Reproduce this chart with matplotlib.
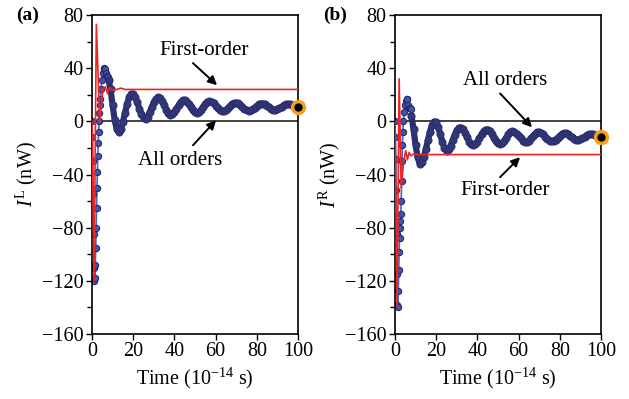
import matplotlib
matplotlib.use('Agg')
import matplotlib.pyplot as plt
from matplotlib.ticker import MultipleLocator

plt.rcParams['font.family'] = ['Liberation Serif', 'DejaVu Serif']
plt.rcParams['mathtext.fontset'] = 'custom'
plt.rcParams['mathtext.rm'] = 'Liberation Serif'
plt.rcParams['mathtext.it'] = 'Liberation Serif:italic'

# time grid (10^-14 s): fine steps at the start, then one step per unit
time_early = [0, 0.2, 0.4, 0.6, 0.8, 1.0, 1.2, 1.4, 1.6, 1.8, 2.0, 2.2, 2.4, 2.6, 2.8,
              3.0, 3.2, 3.4, 3.6, 3.8, 4.0, 4.4, 4.8, 5.2, 5.6, 6.0, 6.4, 6.8, 7.2, 7.6, 8.0]
time_late = list(range(9, 101))

# all orders, left lead (nW)
all_left_early = [0, -12, -30, -55, -85, -110, -120, -118, -108, -95, -80, -65, -50, -38, -26,
                  -16, -8, 0, 6, 12, 17, 24, 31, 36, 39, 40, 39, 36, 34, 33, 31]
all_left_late = [24, 12, 1, -6, -8, -5.4, -0.4, 6.2, 12.9, 18.1,
                 20.7, 20.6, 18.2, 14.2, 9.4, 5.4, 2.6, 2.1, 3.6, 6.8,
                 10.6, 14.3, 17.0, 18.0, 17.2, 15.0, 12.0, 8.8, 6.3, 5.1,
                 5.3, 6.9, 9.3, 12.0, 14.4, 15.8, 15.9, 14.9, 13.0, 10.7,
                 8.5, 7.0, 6.5, 7.1, 8.6, 10.7, 12.7, 14.2, 15.0, 14.7,
                 13.5, 11.9, 10.1, 8.5, 7.6, 7.6, 8.4, 9.8, 11.3, 12.8,
                 13.7, 14.0, 13.5, 12.4, 10.9, 9.5, 8.4, 8.0, 8.3, 9.2,
                 10.4, 11.7, 12.9, 13.4, 13.4, 12.8, 11.7, 10.5, 9.4, 8.7,
                 8.5, 9.0, 9.9, 10.9, 12.0, 12.7, 13.0, 13.0, 12.6, 12.0,
                 11.4, 10.8]

# all orders, right lead (nW)
all_right_early = [0, -12, -28, -52, -85, -115, -138, -140, -128, -112, -98, -88, -80, -75, -70,
                   -60, -45, -30, -18, -8, 0, 7, 12, 15, 17, 16.5, 12, 10, 10, 9, 4]
all_right_late = [-6, -18, -27, -32, -30.6, -26.6, -20.8, -14.1, -7.7, -2.9,
                  -0.2, -0.6, -4.4, -9.7, -15.8, -20.3, -22.0, -21.0, -18.2, -14.3,
                  -10.1, -6.8, -4.8, -4.7, -6.1, -8.8, -12.1, -15.2, -17.2, -18.0,
                  -17.3, -15.4, -12.7, -9.8, -7.6, -6.2, -6.2, -7.3, -9.5, -12.2,
                  -14.7, -16.3, -17.0, -16.4, -14.6, -12.3, -9.9, -8.2, -7.5, -7.9,
                  -9.3, -11.0, -12.9, -14.5, -15.3, -15.4, -14.5, -12.9, -11.1, -9.4,
                  -8.3, -8.0, -8.6, -9.9, -11.6, -13.3, -14.5, -15.0, -14.7, -13.7,
                  -12.4, -10.9, -9.7, -9.1, -9.1, -9.8, -10.9, -12.1, -13.2, -13.9,
                  -14.0, -13.6, -12.7, -11.6, -10.5, -9.8, -9.5, -9.7, -10.2, -10.9,
                  -11.5, -12.0]

# first-order curves
first_time_left = [0, 1.0, 2.1, 3.7, 5.3, 6.5, 7.5, 8.6, 10, 12, 14, 16, 100]
first_left = [0, -120, 73, 0, 24, 26, 21, 25.5, 23.5, 24, 25, 24, 24]
first_time_right = [0, 1.0, 2.0, 3.0, 4.2, 5.2, 6.0, 6.8, 7.8, 9, 11, 100]
first_right = [0, -140, 32, -50, -30, -22, -29, -23.5, -26, -24.5, -25, -25]

navy = '#2c2f6e'

fig = plt.figure(figsize=(6.29, 3.99), dpi=100)
ax_a = fig.add_axes([0.1463, 0.1629, 0.3275, 0.7995])
ax_b = fig.add_axes([0.628, 0.1629, 0.3275, 0.7995])

panels = [
    (ax_a, '(a)', 'L', all_left_early, all_left_late, first_time_left, first_left),
    (ax_b, '(b)', 'R', all_right_early, all_right_late, first_time_right, first_right),
]

for ax, tag, lead, cur_e, cur_l, ft, fv in panels:
    ax.axhline(0, color='#333333', lw=1.3, zorder=1)
    # fast transient: separate dots on a thin line
    ax.plot(time_early, cur_e, '-o', color='#4a66c0', lw=1.2, ms=4.5,
            mfc='#3e56ad', mec='#262a66', mew=0.8, zorder=2)
    # slow oscillation: dots merge into a thick band
    ax.plot(time_early[-1:] + time_late, cur_e[-1:] + cur_l, '-o', color=navy, lw=4.5,
            ms=5, mfc='#33387c', mec=navy, mew=0.8, zorder=2)
    ax.plot(ft, fv, color='#ee2424', lw=1.2, zorder=3)
    # end point highlight
    ax.plot(time_late[-1], cur_l[-1], 'o', ms=10, color='#f5a01a', clip_on=False, zorder=4)
    ax.plot(time_late[-1], cur_l[-1], 'o', ms=5, color='black', clip_on=False, zorder=5)

    ax.set_xlim(0, 100)
    ax.set_ylim(-160, 80)
    ax.xaxis.set_major_locator(MultipleLocator(20))
    ax.yaxis.set_major_locator(MultipleLocator(40))
    ax.yaxis.set_minor_locator(MultipleLocator(20))
    ax.tick_params(axis='both', which='major', direction='out', length=4, width=1,
                   labelsize=14.5, pad=2)
    ax.tick_params(axis='y', which='minor', direction='out', length=3.5, width=1)
    for sp in ax.spines.values():
        sp.set_linewidth(1.2)
    ax.set_xlabel(r'Time (10$^{-14}$ s)', fontsize=14.5, labelpad=3)
    ax.set_ylabel(r'$I^{\mathrm{%s}}$ (nW)' % lead, fontsize=14.5, labelpad=2)

ax_a.text(-0.37, 1.0, '(a)', transform=ax_a.transAxes, fontsize=14, fontweight='bold',
          ha='left', va='center')
ax_b.text(-0.35, 1.0, '(b)', transform=ax_b.transAxes, fontsize=14, fontweight='bold',
          ha='left', va='center')

arrow = dict(arrowstyle='-|>', color='black', lw=1.4, mutation_scale=13,
             shrinkA=0, shrinkB=0)

ax_a.text(54.4, 53.6, 'First-order', fontsize=15, ha='center', va='center')
ax_a.annotate('', xy=(60.7, 27.2), xytext=(49, 43.8), arrowprops=arrow)
ax_a.text(42.7, -29.4, 'All orders', fontsize=15, ha='center', va='center')
ax_a.annotate('', xy=(60.2, 0.8), xytext=(49, -18), arrowprops=arrow)

ax_b.text(53.4, 31, 'All orders', fontsize=15, ha='center', va='center')
ax_b.annotate('', xy=(66.5, -4.5), xytext=(51, 21), arrowprops=arrow)
ax_b.text(53.4, -52, 'First-order', fontsize=15, ha='center', va='center')
ax_b.annotate('', xy=(60.7, -27), xytext=(51, -42), arrowprops=arrow)

fig.savefig('out.png', dpi=100)
